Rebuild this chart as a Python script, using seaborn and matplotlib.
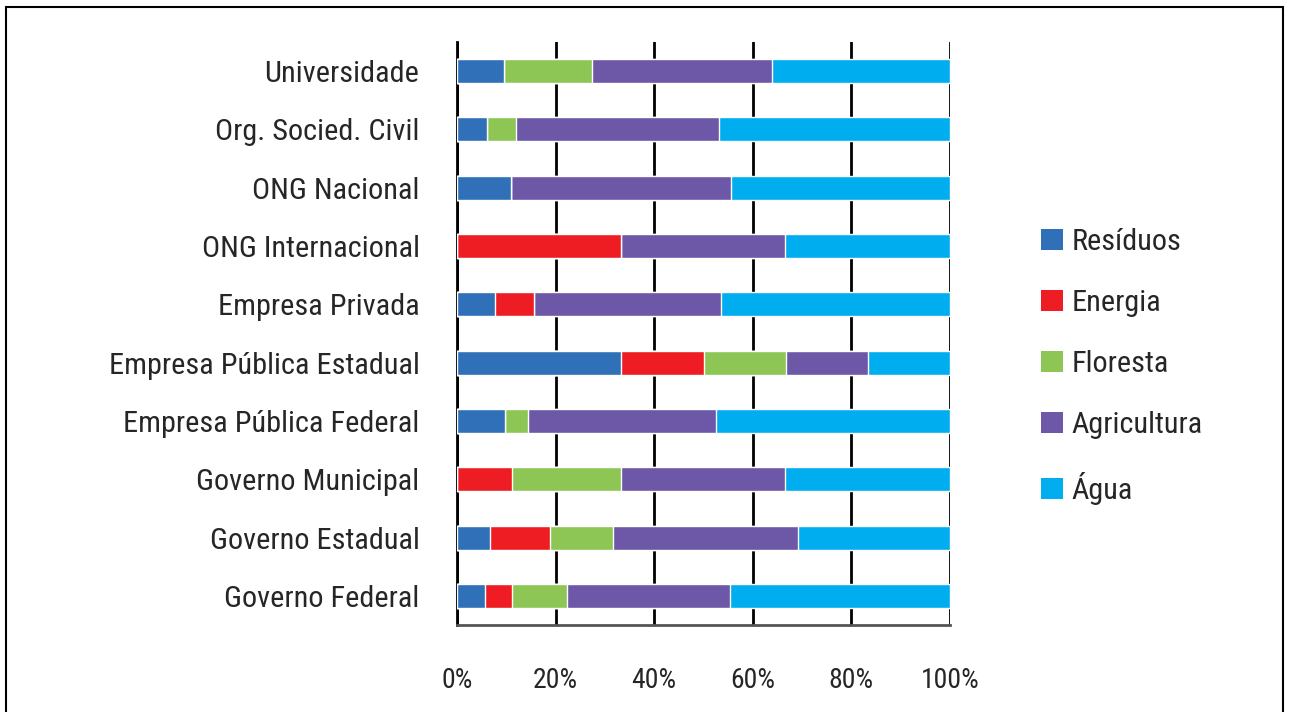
import matplotlib
matplotlib.use("Agg")
import numpy as np
import pandas as pd
import seaborn as sns
import matplotlib.pyplot as plt
from matplotlib import font_manager
from matplotlib.patches import Patch, Rectangle
from matplotlib.ticker import FixedLocator

categories = [
    "Universidade",
    "Org. Socied. Civil",
    "ONG Nacional",
    "ONG Internacional",
    "Empresa Privada",
    "Empresa Pública Estadual",
    "Empresa Pública Federal",
    "Governo Municipal",
    "Governo Estadual",
    "Governo Federal",
]
residuos = [9.6, 6.1, 11.0, 0.0, 7.8, 33.3, 9.8, 0.0, 6.7, 5.7]
energia = [0.0, 0.0, 0.0, 33.3, 7.9, 16.7, 0.0, 11.1, 12.2, 5.5]
floresta = [17.8, 5.9, 0.0, 0.0, 0.0, 16.7, 4.7, 22.2, 12.8, 11.2]
agricultura = [36.5, 41.2, 44.6, 33.3, 37.9, 16.7, 38.1, 33.3, 37.5, 33.0]
agua = [36.1, 46.8, 44.4, 33.4, 46.4, 16.6, 47.4, 33.4, 30.8, 44.6]

series_names = ["Resíduos", "Energia", "Floresta", "Agricultura", "Água"]
colors = ["#3070B8", "#EE1D24", "#8DC655", "#6C58A6", "#00AEEF"]
x_ticks = [0, 20, 40, 60, 80, 100]

# pick a condensed font if one is installed
available = {f.name for f in font_manager.fontManager.ttflist}
family = "DejaVu Sans"
for name in ["Roboto Condensed", "Liberation Sans Narrow", "Open Sans Condensed", "Liberation Sans"]:
    if name in available:
        family = name
        break

sns.set_style("white")
plt.rcParams["font.family"] = [family, "DejaVu Sans"]

df = pd.DataFrame(
    {"categoria": categories, "Resíduos": residuos, "Energia": energia,
     "Floresta": floresta, "Agricultura": agricultura, "Água": agua}
)
cum = df[series_names].cumsum(axis=1)

fig = plt.figure(figsize=(12.89, 7.12), dpi=100)
ax = fig.add_axes([457 / 1289, 1 - 625 / 712, (950 - 457) / 1289, (625 - 42) / 712])

# draw stacked bars as layered cumulative totals, largest first
for name, color in reversed(list(zip(series_names, colors))):
    sns.barplot(x=cum[name], y=df["categoria"], color=color, orient="h",
                width=0.41, saturation=1, ax=ax, zorder=3)

ax.set_xlim(0, 100)
ax.set_ylim(len(categories) - 0.5, -0.5)
ax.set_xlabel("")
ax.set_ylabel("")
ax.set_xticks(x_ticks)
ax.set_xticklabels([f"{t}%" for t in x_ticks], fontsize=20)
ax.tick_params(axis="x", length=6, width=2, color="black", pad=24, direction="out")
ax.tick_params(axis="y", which="major", length=0, pad=27, labelsize=21.8)
ax.yaxis.set_minor_locator(FixedLocator(np.arange(-0.5, len(categories), 1.0)))
ax.tick_params(axis="y", which="minor", length=10, width=2, color="#555555", direction="out")

ax.grid(axis="x", color="black", linewidth=2, zorder=1)
ax.grid(axis="y", visible=False)
ax.set_axisbelow(True)
for side in ["top", "right"]:
    ax.spines[side].set_visible(False)
ax.spines["left"].set_color("black")
ax.spines["left"].set_linewidth(2)
ax.spines["bottom"].set_color("#555555")
ax.spines["bottom"].set_linewidth(2)

handles = [Patch(facecolor=c, edgecolor="none", label=n) for n, c in zip(series_names, colors)]
fig.legend(handles=handles, loc="upper left", bbox_to_anchor=(1041 / 1289, 1 - 228 / 712),
           frameon=False, fontsize=21.8, handlelength=0.72, handleheight=0.72,
           handletextpad=0.3, labelspacing=1.09, borderpad=0, borderaxespad=0)

# outer frame around the figure
fig.patches.append(Rectangle((6 / 1289, -0.02), (1283 - 6) / 1289, 1 - 7 / 712 + 0.02,
                             transform=fig.transFigure, fill=False, lw=1.5, ec="black"))

fig.savefig("out.png", dpi=100)
